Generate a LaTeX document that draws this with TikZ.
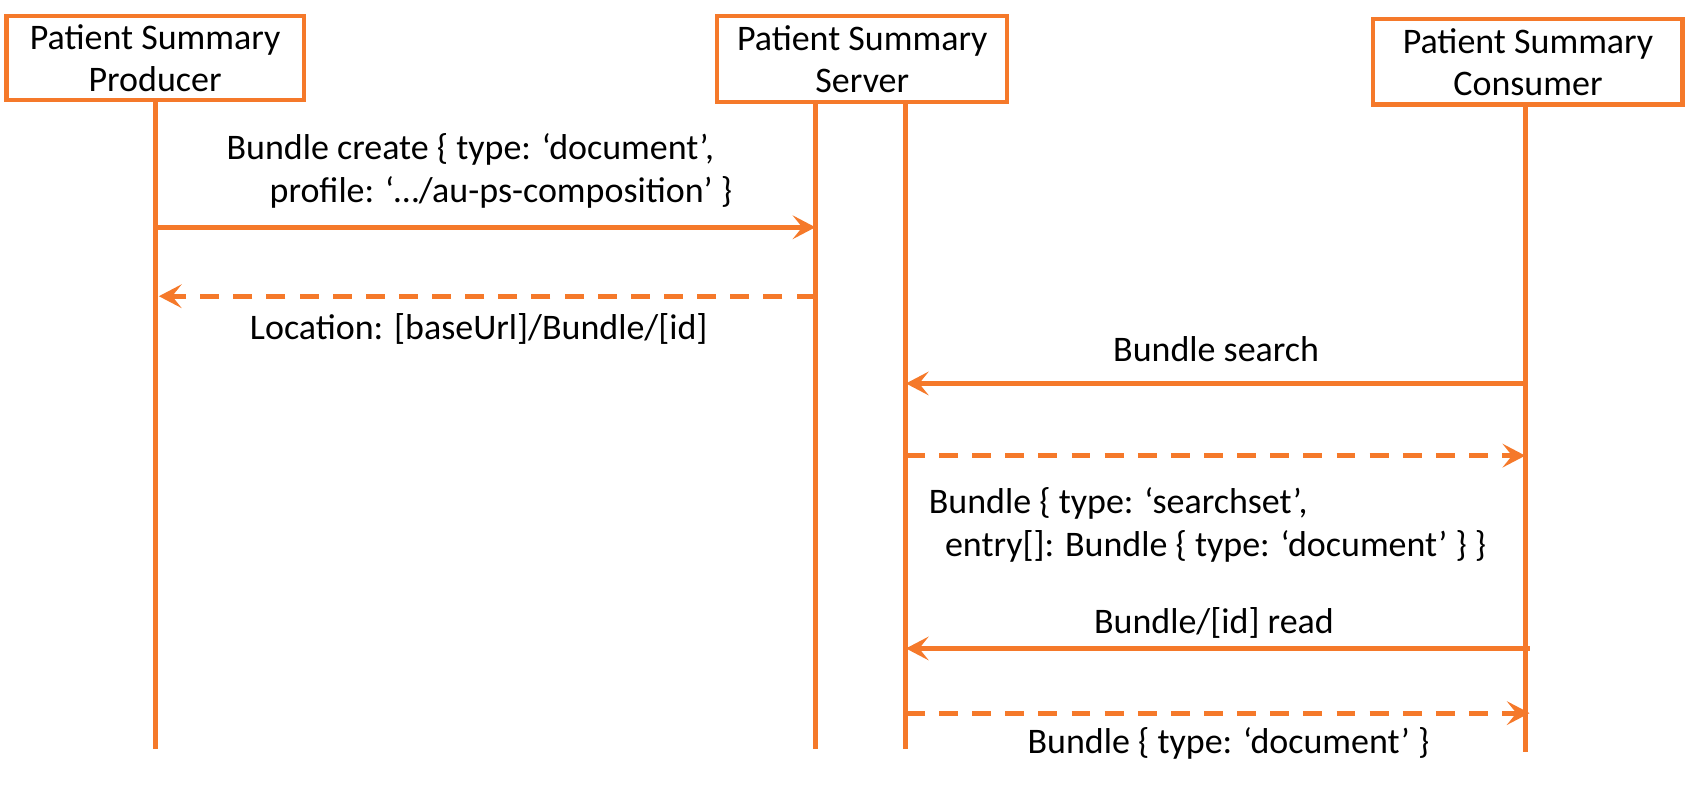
\documentclass[tikz,border=0pt]{standalone}
\usepackage{fontspec}
\setmainfont{Carlito}
\usepackage{tikz}
\usepackage{xcolor}
\usetikzlibrary{positioning,arrows.meta,calc}
\definecolor{psorange}{RGB}{245,121,42}

\begin{document}
\begin{tikzpicture}[
    actor/.style={draw=psorange, line width=2.2pt, align=center, inner sep=0pt,
      font=\fontsize{19}{22}\selectfont},
    lifeline/.style={draw=psorange, line width=2.6pt},
    msg/.style={psorange, line width=2.6pt, -{Stealth[length=12pt,width=12.5pt,inset=5pt]}},
    reply/.style={msg, dash pattern=on 10pt off 7.5pt},
    lbl/.style={align=left, inner sep=0pt, font=\fontsize{19}{23}\selectfont}]
    \useasboundingbox (0,0) rectangle (31.36,-14.62);

    % Draw the three actors
    \node[actor, minimum width=5.52cm, minimum height=1.56cm] (prod) at (2.88,-1.08) {Patient Summary\\Producer};
    \node[actor, minimum width=5.38cm, minimum height=1.6cm] (srv) at (16.01,-1.1) {Patient Summary\\Server};
    \node[actor, minimum width=5.74cm, minimum height=1.58cm] (cons) at (28.37,-1.15) {Patient Summary\\Consumer};

    % Draw lifelines
    \coordinate (prodEnd) at (2.88,-13.9);
    \coordinate (srvL) at (15.14,-13.9);
    \coordinate (srvR) at (16.82,-13.9);
    \coordinate (consEnd) at (28.32,-13.96);
    \draw[lifeline] (prod.south) -- (prodEnd);
    \draw[lifeline] (srvL |- srv.south) -- (srvL);
    \draw[lifeline] (srvR |- srv.south) -- (srvR);
    \draw[lifeline] (consEnd |- cons.south) -- (consEnd);

    % Producer and server
    \coordinate (m1a) at (2.88,-4.22);
    \coordinate (m1b) at (15.14,-4.22);
    \draw[msg] (m1a) -- (m1b);
    \node[lbl, anchor=west] (lab1) at (4.2,-3.17) {Bundle create \{ type: ‘document’,\\\hspace*{0.8cm}profile: ‘…/au-ps-composition’ \}};

    \coordinate (m2a) at (15.14,-5.5);
    \coordinate (m2b) at (2.95,-5.5);
    \draw[reply] (m2a) -- (m2b);
    \node[lbl] (lab2) at (8.89,-6.1) {Location: [baseUrl]/Bundle/[id]};

    % Consumer and server
    \coordinate (m3a) at (28.32,-7.12);
    \coordinate (m3b) at (16.82,-7.12);
    \draw[msg] (m3a) -- (m3b);
    \node[lbl] (lab3) at (22.58,-6.48) {Bundle search};

    \coordinate (m4a) at (16.82,-8.46);
    \coordinate (m4b) at (28.32,-8.46);
    \draw[reply] (m4a) -- (m4b);
    \node[lbl, anchor=west] (lab4) at (17.24,-9.75) {Bundle \{ type: ‘searchset’,\\\hspace*{0.3cm}entry[]: Bundle \{ type: ‘document’ \} \}};

    \coordinate (m5a) at (28.4,-12.04);
    \coordinate (m5b) at (16.82,-12.04);
    \draw[msg] (m5a) -- (m5b);
    \node[lbl] (lab5) at (22.54,-11.56) {Bundle/[id] read};

    \coordinate (m6a) at (16.82,-13.24);
    \coordinate (m6b) at (28.4,-13.24);
    \draw[reply] (m6a) -- (m6b);
    \node[lbl] (lab6) at (22.81,-13.8) {Bundle \{ type: ‘document’ \}};
\end{tikzpicture}
\end{document}
